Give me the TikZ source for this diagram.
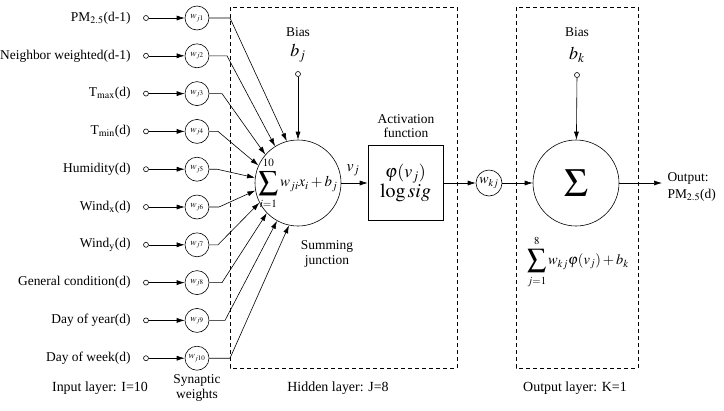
\documentclass[tikz,border=0pt]{standalone}
\usepackage{mathptmx}
\usepackage{fontspec}
\setmainfont{Liberation Serif}
\usetikzlibrary{arrows.meta}
\newcommand{\mysum}{\mathop{\vcenter{\vbox{\kern2bp\hbox{\scalebox{1.3}{$\displaystyle\sum$}}\kern2bp}}}\limits}
\begin{document}
\begin{tikzpicture}[x=1bp,y=-1bp,font=\fontsize{13.5}{15}\selectfont,
  ln/.style={line width=0.6bp},
  arr/.style={ln,-{Latex[length=8bp,width=5bp]}},
  term/.style={circle,draw,ln,inner sep=0,minimum size=5bp,fill=white},
  wt/.style={circle,draw,ln,inner sep=0,minimum size=24bp},
  frame/.style={draw,ln,dash pattern=on 4bp off 3bp}]
\useasboundingbox (0,0) rectangle (724,410);
% layer frames
\draw[frame] (230,7) rectangle (457,368);
\draw[frame] (516,7) rectangle (638,368);
% hidden neuron
\node[circle,draw,ln,minimum size=86bp,inner sep=0] (sum) at (298,183) {};
\node[font=\fontsize{15}{17}\selectfont] (sumf) at (298,183) {$\displaystyle\mysum_{i=1}^{10} w_{ji}x_i+b_j$};
% inputs
\foreach \i/\txt/\xt/\ang in {
  1/{PM$_{2.5}$(d-1)}/230/105,
  2/{Neighbor weighted(d-1)}/227/122,
  3/{T$_{\mathrm{max}}$(d)}/222/139,
  4/{T$_{\mathrm{min}}$(d)}/218/156,
  5/{Humidity(d)}/217/173,
  6/{Wind$_{\mathrm{x}}$(d)}/219/190,
  7/{Wind$_{\mathrm{y}}$(d)}/218/207,
  8/{General condition(d)}/222/224,
  9/{Day of year(d)}/225/241,
  10/{Day of week(d)}/230/258}{
  \pgfmathsetmacro\yy{18+37.8*(\i-1)}
  \node[anchor=east] (lab\i) at (134,\yy) {\txt};
  \node[term] (in\i) at (146,\yy) {};
  \node[wt] (w\i) at (197,\yy) {\fontsize{9.5}{9.5}\selectfont$w_{j\i}$};
  \coordinate (t\i) at (\xt,\yy);
  \draw[arr] (in\i) -- (w\i);
  \draw[arr] (w\i) -- (t\i) -- (sum.\ang);
}
% hidden bias
\node (biasj) at (298,32) {Bias};
\node (bj) at (298,53) {\fontsize{18}{18}\selectfont$b_j$};
\node[term] (bjt) at (298,74) {};
\draw[arr] (bjt) -- (sum);
% activation
\node (vj) at (353,170) {\fontsize{16}{16}\selectfont$v_j$};
\node[draw,ln,minimum width=75bp,minimum height=75bp,align=center] (act) at (405.5,183)
  {\fontsize{18}{23}\selectfont$\varphi(v_j)$\\\fontsize{20}{23}\selectfont$\log\mathit{sig}$};
\node[align=center,font=\fontsize{13.5}{14.5}\selectfont] (actlab) at (406,126) {Activation\\function};
\draw[arr] (sum) -- (act);
\node[wt,minimum size=26bp] (wkj) at (489,183) {\fontsize{14}{14}\selectfont$w_{kj}$};
\draw[arr] (act) -- (wkj);
% output neuron
\node[circle,draw,ln,minimum size=86bp,inner sep=0] (out) at (576,183) {\fontsize{40}{40}\selectfont$\Sigma$};
\draw[arr] (wkj) -- (out);
\node (biask) at (577,32) {Bias};
\node (bk) at (577,55) {\fontsize{18}{18}\selectfont$b_k$};
\node[term] (bkt) at (577,75) {};
\draw[arr] (bkt) -- (out);
\coordinate (oend) at (662,183);
\draw[arr] (out) -- (oend);
\node[anchor=west,align=left,font=\fontsize{13.5}{17}\selectfont] (outlab) at (664,187) {Output:\\PM$_{2.5}$(d)};
\node[font=\fontsize{14.5}{16}\selectfont] (fk) at (578,262) {$\displaystyle\mysum_{j=1}^{8} w_{kj}\varphi(v_j)+b_k$};
% captions
\node[align=center,font=\fontsize{13.5}{14.5}\selectfont] (sj) at (327,254) {Summing\\junction};
\node[align=center,font=\fontsize{13.5}{14.5}\selectfont] (syn) at (197,388) {Synaptic\\weights};
\node[font=\fontsize{14}{16}\selectfont] (il) at (100,388) {Input layer: I=10};
\node[font=\fontsize{14}{16}\selectfont] (hl) at (338,388) {Hidden layer: J=8};
\node[font=\fontsize{14}{16}\selectfont] (ol) at (575,388) {Output layer: K=1};
\end{tikzpicture}
\end{document}
